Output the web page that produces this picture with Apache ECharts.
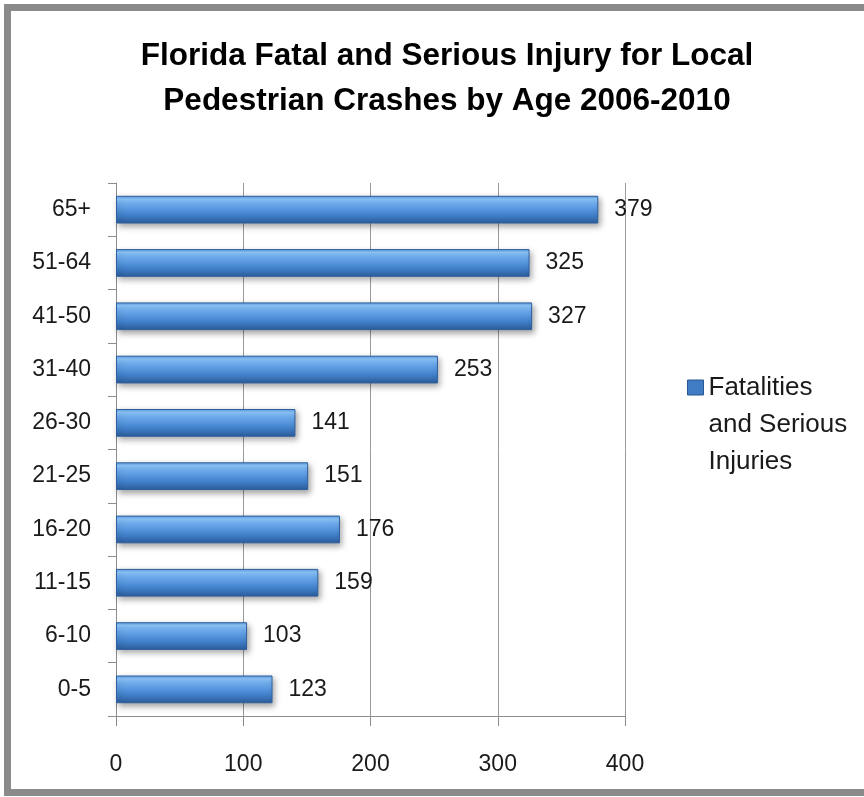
<!DOCTYPE html>
<html>
<head>
<meta charset="utf-8">
<script src="https://cdn.jsdelivr.net/npm/echarts@6/dist/echarts.min.js"></script>
<style>
  html, body { margin: 0; padding: 0; background: #fff; }
  #chart { width: 864px; height: 797px; }
</style>
</head>
<body>
<div id="chart"></div>
<script>
const TITLE = 'Florida Fatal and Serious Injury for Local\nPedestrian Crashes by Age 2006-2010';
const SERIES_NAME = 'Fatalities and Serious Injuries';
// bottom to top, as the category axis draws them
const ageGroups = ['0-5', '6-10', '11-15', '16-20', '21-25', '26-30', '31-40', '41-50', '51-64', '65+'];
const counts = [123, 103, 159, 176, 151, 141, 253, 327, 325, 379];
const xTicks = [0, 100, 200, 300, 400];

const font = "'Liberation Sans', Arial, sans-serif";
const ink = '#1a1a1a';
const gridGrey = '#8c8c8c';

const chart = echarts.init(document.getElementById('chart'));

chart.setOption({
  animation: false,
  backgroundColor: '#fff',
  graphic: [{
    type: 'rect',
    silent: true,
    shape: {x: 7.5, y: 7.5, width: 900, height: 785},
    style: {fill: 'none', stroke: '#8a8a8a', lineWidth: 7}
  }],
  title: {
    text: TITLE,
    left: 442,
    top: 29,
    textAlign: 'center',
    textStyle: {
      fontFamily: font, fontWeight: 'bold', fontSize: 31.5, lineHeight: 45, color: '#000'
    }
  },
  legend: {
    left: 687,
    top: 295,
    padding: 0,
    icon: 'rect',
    itemWidth: 16,
    itemHeight: 15,
    itemStyle: {color: '#3f7cc4', borderColor: '#2a578f', borderWidth: 1},
    // two blank lines on top so the key sits level with the first line
    formatter: () => '\n\nFatalities\nand Serious\nInjuries',
    textStyle: {fontFamily: font, fontSize: 26, lineHeight: 37, color: ink}
  },
  grid: {left: 116, right: 239, top: 183, bottom: 81},
  xAxis: {
    type: 'value',
    min: xTicks[0],
    max: xTicks[xTicks.length - 1],
    interval: 100,
    axisLine: {show: true, lineStyle: {color: gridGrey, width: 1}},
    axisTick: {show: true, length: 10, lineStyle: {color: gridGrey}},
    splitLine: {show: true, lineStyle: {color: '#9a9a9a', width: 1}},
    axisLabel: {
      margin: 37, color: ink, fontFamily: font, fontSize: 23,
      formatter: v => xTicks.includes(v) ? String(v) : ''
    }
  },
  yAxis: {
    type: 'category',
    data: ageGroups,
    axisLine: {show: true, lineStyle: {color: gridGrey, width: 1}},
    axisTick: {show: true, length: 8, lineStyle: {color: gridGrey}},
    axisLabel: {margin: 25, color: ink, fontFamily: font, fontSize: 23}
  },
  series: [{
    name: SERIES_NAME,
    type: 'bar',
    data: counts,
    barWidth: '52%',
    itemStyle: {
      color: new echarts.graphic.LinearGradient(0, 0, 0, 1, [
        {offset: 0, color: '#5a98de'},
        {offset: 0.12, color: '#8dc7fb'},
        {offset: 0.32, color: '#6aa8ec'},
        {offset: 0.7, color: '#4080ca'},
        {offset: 1, color: '#2c5c9a'}
      ]),
      borderColor: '#2f5f9e',
      borderWidth: 1,
      shadowColor: 'rgba(0,0,0,0.35)',
      shadowBlur: 6,
      shadowOffsetX: 2,
      shadowOffsetY: 3
    },
    label: {
      show: true,
      position: 'right',
      distance: 16,
      color: ink,
      fontFamily: font,
      fontSize: 23
    }
  }]
});
</script>
</body>
</html>
